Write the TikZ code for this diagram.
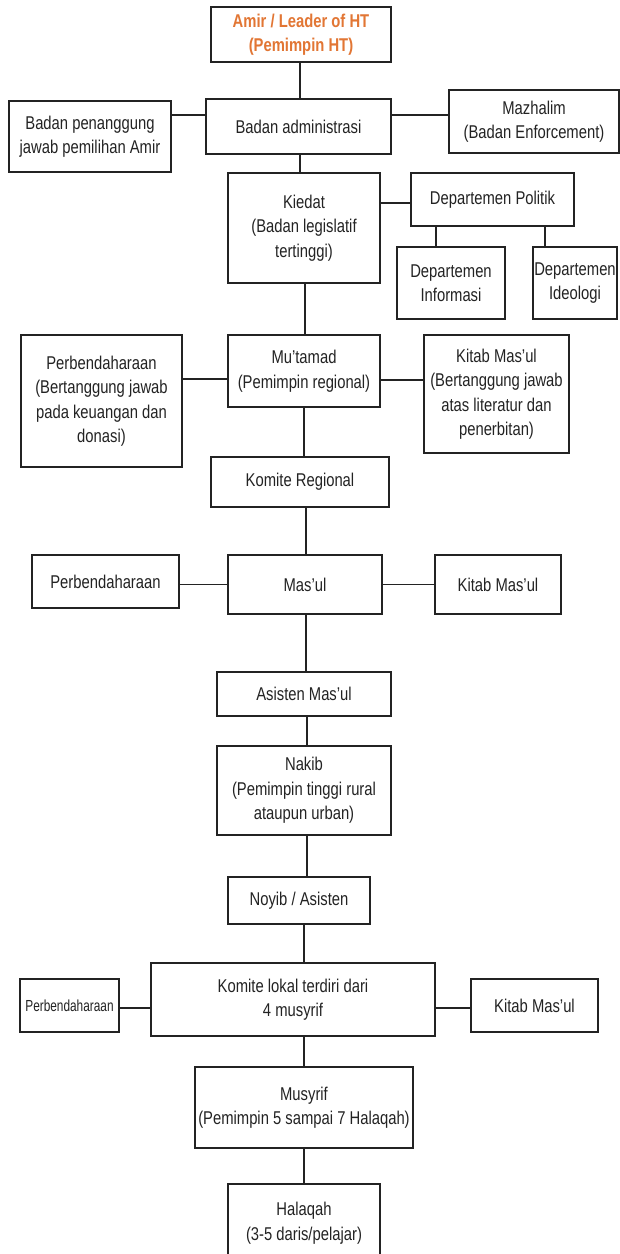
\documentclass[tikz,border=0pt]{standalone}
\usepackage{fontspec}
\setmainfont{Liberation Sans}[FakeStretch=0.8]
\newfontfamily\narrowfont{Liberation Sans}[FakeStretch=0.74]
\definecolor{amirorange}{RGB}{226,118,52}
\definecolor{inkc}{RGB}{35,35,35}
\begin{document}
\begin{tikzpicture}[x=1pt,y=-1pt,
  box/.style={draw=inkc, line width=1.3pt, rectangle, inner sep=0pt, align=center,
    text=inkc, font=\fontsize{18.5}{24.5}\selectfont},
  smallbox/.style={box, font=\narrowfont\fontsize{16}{20}\selectfont},
  link/.style={draw=inkc, line width=1.2pt}]
\useasboundingbox (0,0) rectangle (620,1254);
\clip (0,0) rectangle (620,1254);
\fill[white] (0,0) rectangle (620,1254);

\node[box, minimum width=180pt, minimum height=55pt, text=amirorange,
      font=\fontsize{18.5}{24.5}\selectfont\bfseries] (amir) at (301,34.5)
      {Amir / Leader of HT\\(Pemimpin HT)};
\node[box, minimum width=185pt, minimum height=55pt] (admin) at (298.5,126.5) {Badan administrasi};
\node[box, minimum width=162pt, minimum height=71pt] (pen) at (90,136.5) {Badan penanggung\\jawab pemilihan Amir};
\node[box, minimum width=170pt, minimum height=63pt] (mazh) at (534,121.5) {Mazhalim\\(Badan Enforcement)};
\node[box, minimum width=152pt, minimum height=110pt] (kiedat) at (304,228) {Kiedat\\(Badan legislatif\\tertinggi)};
\node[box, minimum width=163pt, minimum height=53pt] (politik) at (492.5,199.5) {Departemen Politik};
\node[box, minimum width=108pt, minimum height=72pt] (info) at (451,283) {Departemen\\Informasi};
\node[box, minimum width=84pt, minimum height=72pt] (ideo) at (575,283) {Departemen\\Ideologi};
\node[box, minimum width=152pt, minimum height=72pt] (mutamad) at (304,371) {Mu’tamad\\(Pemimpin regional)};
\node[box, minimum width=161pt, minimum height=132pt] (perb1) at (101.5,401) {Perbendaharaan\\(Bertanggung jawab\\pada keuangan dan\\donasi)};
\node[box, minimum width=145pt, minimum height=118pt] (kitab1) at (496.5,394) {Kitab Mas’ul\\(Bertanggung jawab\\atas literatur dan\\penerbitan)};
\node[box, minimum width=178pt, minimum height=50pt] (komreg) at (300,482) {Komite Regional};
\node[box, minimum width=147pt, minimum height=53pt] (perb2) at (105.5,581.5) {Perbendaharaan};
\node[box, minimum width=154pt, minimum height=59pt] (masul) at (305,584.5) {Mas’ul};
\node[box, minimum width=126pt, minimum height=59pt] (kitab2) at (498,584.5) {Kitab Mas’ul};
\node[box, minimum width=174pt, minimum height=44pt] (asisten) at (304,694) {Asisten Mas’ul};
\node[box, minimum width=174pt, minimum height=89pt] (nakib) at (304,790.5) {Nakib\\(Pemimpin tinggi rural\\ataupun urban)};
\node[box, minimum width=142pt, minimum height=47pt] (noyib) at (299,900.5) {Noyib / Asisten};
\node[box, minimum width=284pt, minimum height=73pt] (komlok) at (293,999.5) {Komite lokal terdiri dari\\4 musyrif};
\node[smallbox, minimum width=99pt, minimum height=53pt] (perb3) at (69.5,1005.5) {Perbendaharaan};
\node[box, minimum width=127pt, minimum height=53pt] (kitab3) at (534.5,1005.5) {Kitab Mas’ul};
\node[box, minimum width=218pt, minimum height=81pt] (musyrif) at (304,1107.5) {Musyrif\\(Pemimpin 5 sampai 7 Halaqah)};
\node[box, minimum width=152pt, minimum height=78pt] (halaqah) at (304,1223) {Halaqah\\(3-5 daris/pelajar)};

% connectors
\draw[link] ([xshift=-1pt]amir.south) -- ([xshift=-1pt]amir.south |- admin.north);
\draw[link] ([yshift=21.5pt]pen.east) -- ([yshift=21.5pt]pen.east -| admin.west);
\draw[link] ([yshift=11.5pt]admin.east) -- ([yshift=11.5pt]admin.east -| mazh.west);
\draw[link] ([xshift=1.5pt]admin.south) -- ([xshift=1.5pt]admin.south |- kiedat.north);
\draw[link] ([yshift=25pt]kiedat.east) -- ([yshift=25pt]kiedat.east -| politik.west);
\draw[link] ([xshift=-15pt]info.north) -- ([xshift=-15pt]info.north |- politik.south);
\draw[link] ([xshift=-30pt]ideo.north) -- ([xshift=-30pt]ideo.north |- politik.south);
\draw[link] ([xshift=1pt]kiedat.south) -- ([xshift=1pt]kiedat.south |- mutamad.north);
\draw[link] ([yshift=-8pt]mutamad.west) -- ([yshift=-8pt]mutamad.west -| perb1.east);
\draw[link] ([yshift=-9pt]mutamad.east) -- ([yshift=-9pt]mutamad.east -| kitab1.west);
\draw[link] (mutamad.south) -- (mutamad.south |- komreg.north);
\draw[link] ([xshift=1pt]masul.north) -- ([xshift=1pt]masul.north |- komreg.south);
\draw[link] (masul.west) -- (masul.west -| perb2.east);
\draw[link] (masul.east) -- (masul.east -| kitab2.west);
\draw[link] ([xshift=2pt]asisten.north) -- ([xshift=2pt]asisten.north |- masul.south);
\draw[link] ([xshift=3pt]nakib.north) -- ([xshift=3pt]nakib.north |- asisten.south);
\draw[link] ([xshift=3pt]nakib.south) -- ([xshift=3pt]nakib.south |- noyib.north);
\draw[link] ([xshift=5pt]noyib.south) -- ([xshift=5pt]noyib.south |- komlok.north);
\draw[link] ([yshift=-8.5pt]komlok.west) -- ([yshift=-8.5pt]komlok.west -| perb3.east);
\draw[link] ([yshift=-8.5pt]komlok.east) -- ([yshift=-8.5pt]komlok.east -| kitab3.west);
\draw[link] (musyrif.north) -- (musyrif.north |- komlok.south);
\draw[link] (musyrif.south) -- (musyrif.south |- halaqah.north);
\end{tikzpicture}
\end{document}
